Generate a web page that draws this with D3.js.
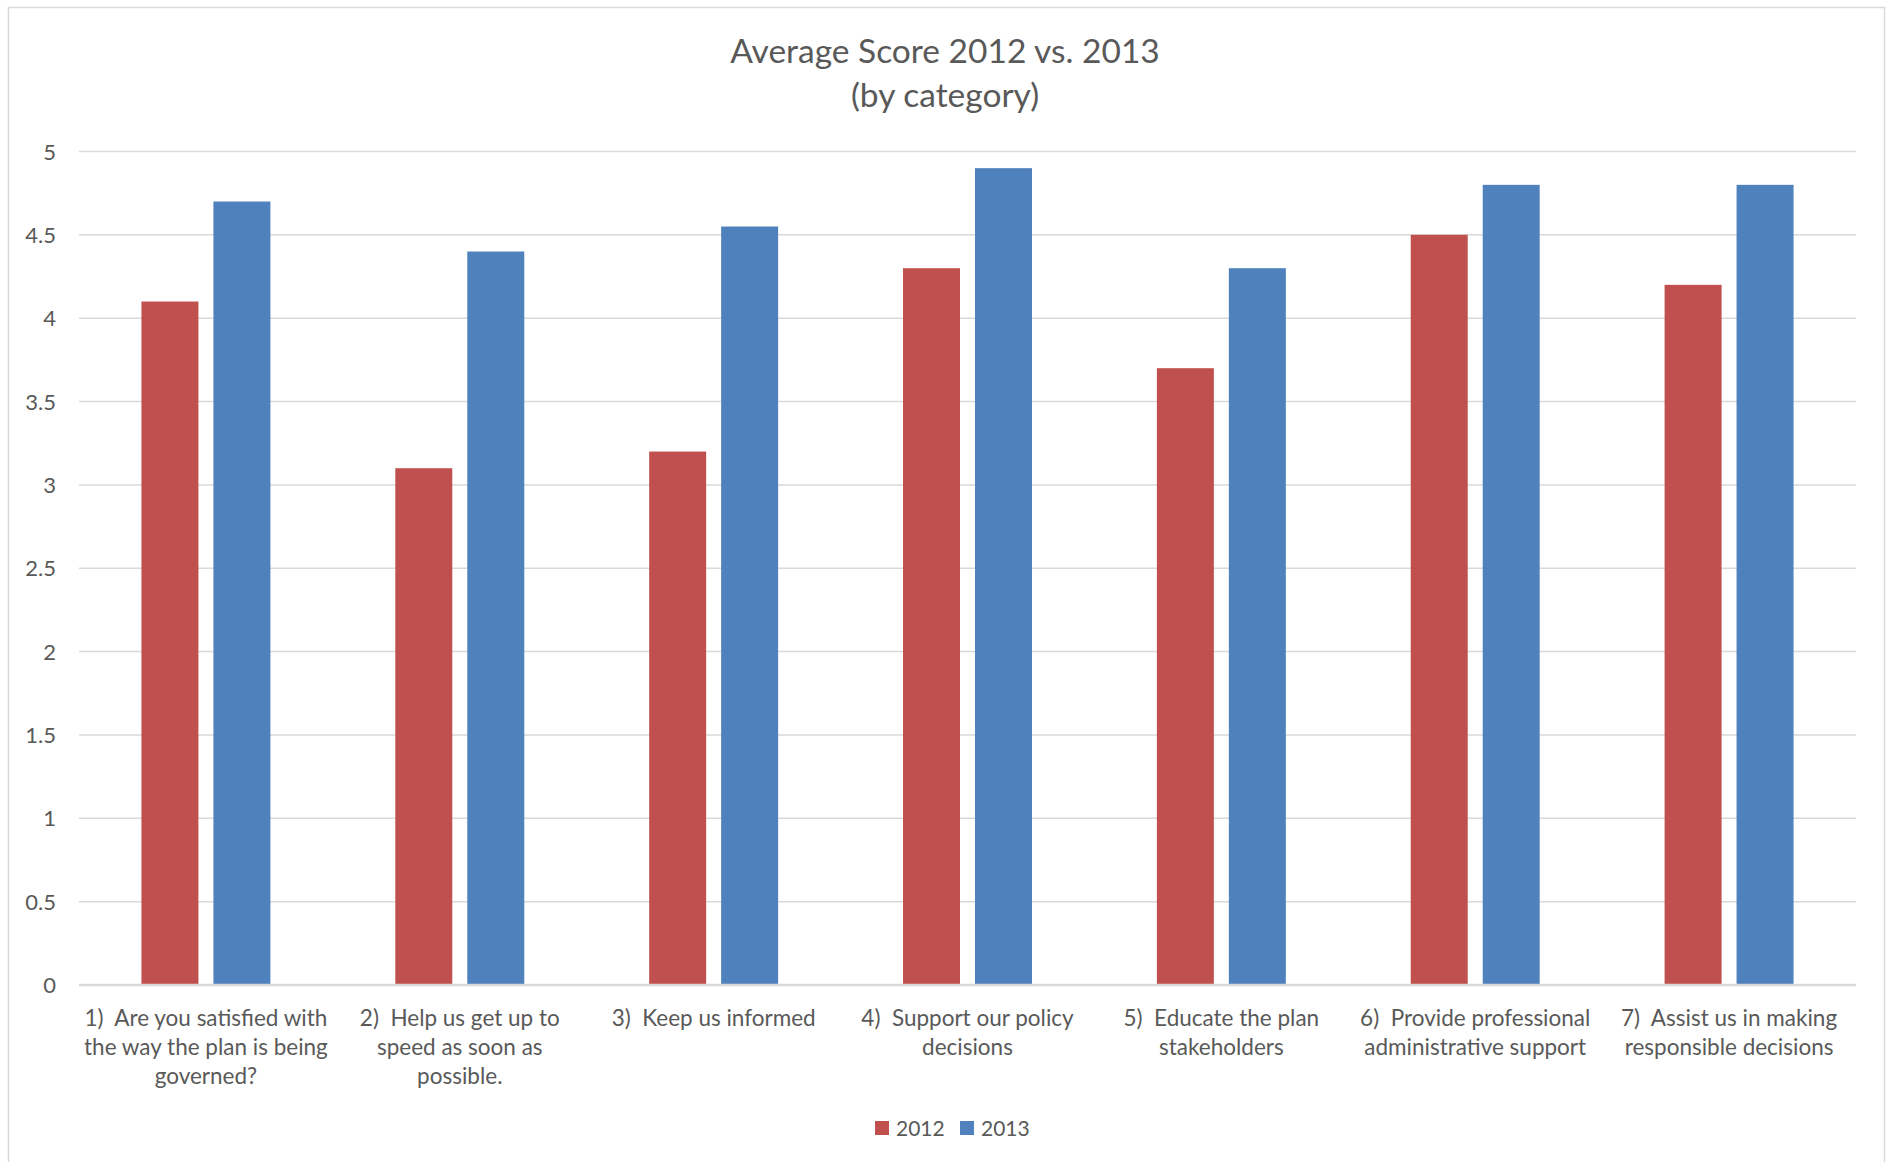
<!DOCTYPE html>
<html>
<head>
<meta charset="utf-8">
<script src="https://cdn.jsdelivr.net/npm/d3@7"></script>
<style>
  html, body { margin: 0; padding: 0; background: #fff; }
  svg { display: block; }
  text { font-family: Lato, "Open Sans", sans-serif; fill: #595959; }
</style>
</head>
<body>
<svg id="chart" width="1889" height="1162"></svg>
<script>
const categories = [
  ["1)  Are you satisfied with", "the way the plan is being", "governed?"],
  ["2)  Help us get up to", "speed as soon as", "possible."],
  ["3)  Keep us informed"],
  ["4)  Support our policy", "decisions"],
  ["5)  Educate the plan", "stakeholders"],
  ["6)  Provide professional", "administrative support"],
  ["7)  Assist us in making", "responsible decisions"]
];
const seriesNames = ["2012", "2013"];
const values2012 = [4.1, 3.1, 3.2, 4.3, 3.7, 4.5, 4.2];
const values2013 = [4.7, 4.4, 4.55, 4.9, 4.3, 4.8, 4.8];
const yTicks = [0, 0.5, 1, 1.5, 2, 2.5, 3, 3.5, 4, 4.5, 5];
const titleLines = ["Average Score 2012 vs. 2013", "(by category)"];
const colors = ["#C0504D", "#4F81BD"];

const svg = d3.select("#chart");
const plot = { left: 79, right: 1856, top: 151.5, bottom: 985 };

// chart border
svg.append("rect")
  .attr("x", 8.5).attr("y", 7.5)
  .attr("width", 1876).attr("height", 1170)
  .attr("fill", "#fff").attr("stroke", "#D9D9D9").attr("stroke-width", 1.5);

const catIdx = categories.map((d, i) => i);
const x0 = d3.scaleBand().domain(catIdx).range([plot.left, plot.right])
  .paddingInner(0.492).paddingOuter(0.246);
const x1 = d3.scaleBand().domain(seriesNames).range([0, x0.bandwidth()])
  .paddingInner(0.2083);
const y = d3.scaleLinear().domain([0, 5]).range([plot.bottom, plot.top]);

// gridlines
svg.append("g").selectAll("line").data(yTicks.filter(t => t !== 0)).join("line")
  .attr("x1", plot.left).attr("x2", plot.right)
  .attr("y1", d => y(d)).attr("y2", d => y(d))
  .attr("stroke", "#D9D9D9").attr("stroke-width", 1.5);

// y tick labels
svg.append("g").selectAll("text").data(yTicks).join("text")
  .attr("x", 56).attr("y", d => y(d) + 8)
  .attr("text-anchor", "end")
  .attr("font-size", 22)
  .text(d => d);

// bars
const data = catIdx.map(i => ({ i, vals: [values2012[i], values2013[i]] }));
const groups = svg.append("g").selectAll("g").data(data).join("g")
  .attr("transform", d => `translate(${x0(d.i)},0)`);
groups.selectAll("rect").data(d => d.vals.map((v, k) => ({ v, k })))
  .join("rect")
  .attr("x", d => x1(seriesNames[d.k]))
  .attr("width", x1.bandwidth())
  .attr("y", d => y(d.v))
  .attr("height", d => y(0) - y(d.v))
  .attr("fill", d => colors[d.k]);

// zero axis line
svg.append("line")
  .attr("x1", plot.left).attr("x2", plot.right)
  .attr("y1", y(0)).attr("y2", y(0))
  .attr("stroke", "#D9D9D9").attr("stroke-width", 2.5);

// category labels
const lab = svg.append("g").selectAll("text").data(data).join("text")
  .attr("text-anchor", "middle")
  .attr("font-size", 22.5);
lab.selectAll("tspan").data(d => categories[d.i].map(s => ({ s, c: x0(d.i) + x0.bandwidth() / 2 })))
  .join("tspan")
  .attr("x", d => d.c)
  .attr("y", (d, j) => 1025.5 + j * 29)
  .attr("xml:space", "preserve")
  .style("white-space", "pre")
  .text(d => d.s);

// title
svg.append("g").selectAll("text").data(titleLines).join("text")
  .attr("x", 945).attr("y", (d, i) => 62.5 + i * 44.5)
  .attr("text-anchor", "middle")
  .attr("font-size", 33.5)
  .text(d => d);

// legend
const legendX = [875, 960];
const leg = svg.append("g").selectAll("g").data(seriesNames).join("g")
  .attr("transform", (d, i) => `translate(${legendX[i]},1121)`);
leg.append("rect").attr("width", 14).attr("height", 14)
  .attr("fill", (d, i) => colors[i]);
leg.append("text").attr("x", 21).attr("y", 15)
  .attr("font-size", 21).text(d => d);
</script>
</body>
</html>
